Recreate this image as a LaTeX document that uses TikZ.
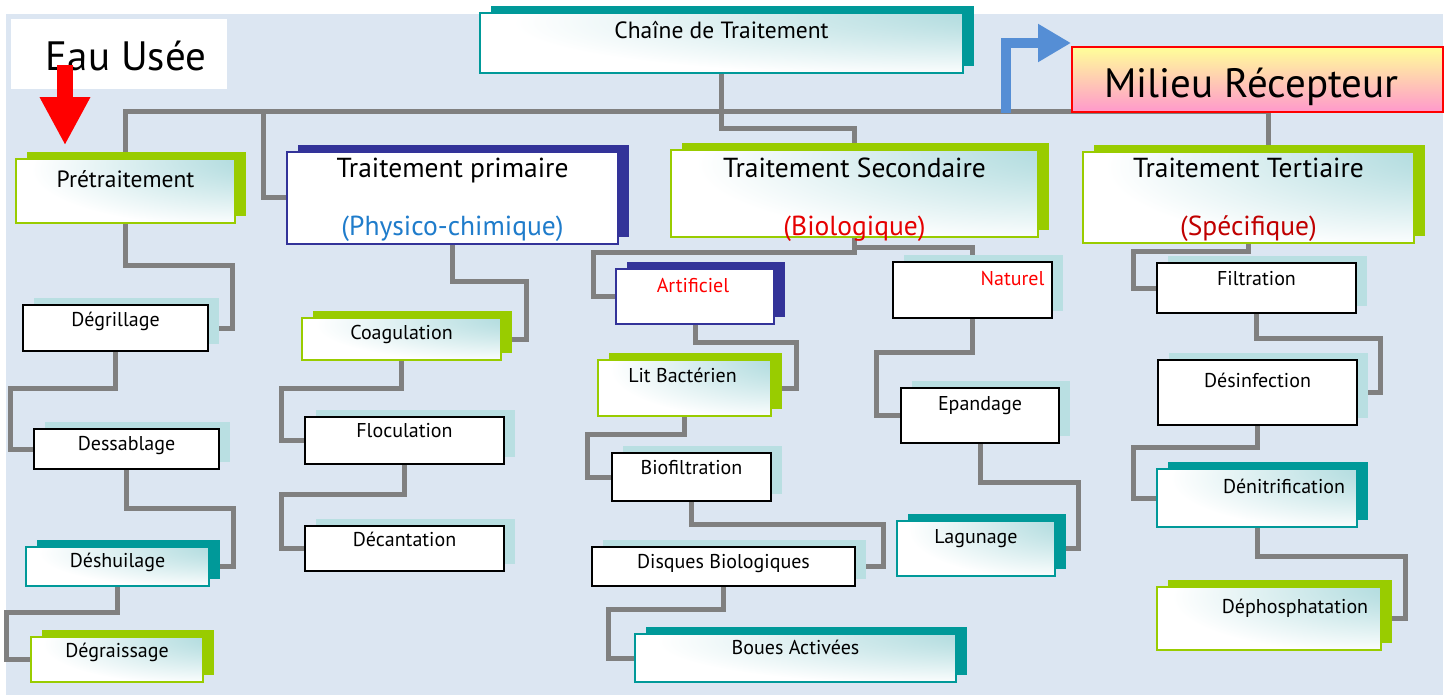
\documentclass[tikz,border=0pt]{standalone}
\usepackage{fontspec}
\setmainfont{PT Sans}
\usetikzlibrary{arrows.meta,shadows}

\definecolor{bggray}{HTML}{DCE6F2}
\definecolor{linkgray}{HTML}{808080}
\definecolor{boxgreen}{HTML}{99CC00}
\definecolor{boxteal}{HTML}{009999}
\definecolor{boxnavy}{HTML}{333399}
\definecolor{lightteal}{HTML}{B9DFE2}
\definecolor{gradteal}{HTML}{B2DCDF}
\definecolor{arrowblue}{HTML}{558ED5}
\definecolor{physblue}{HTML}{1F7CCB}
\definecolor{specred}{HTML}{C00000}
\definecolor{milyellow}{HTML}{FFFF99}
\definecolor{milpink}{HTML}{FF99CC}

\pgfdeclareradialshading{cornerteal}{\pgfpoint{40bp}{30bp}}{%
  color(0bp)=(gradteal); color(10bp)=(gradteal);
  color(44bp)=(white); color(100bp)=(white)}

\pgfdeclarelayer{back}
\pgfdeclarelayer{lines}
\pgfsetlayers{back,lines,main}

\tikzset{
  box/.style 2 args={inner sep=0pt, minimum width=#1, minimum height=#2},
  grad/.style={shading=cornerteal},
  greenbox/.style={draw=boxgreen, line width=1.5pt, grad,
    drop shadow={fill=boxgreen, opacity=1, shadow xshift=11pt, shadow yshift=7pt}},
  tealbox/.style={draw=boxteal, line width=1.5pt, grad,
    drop shadow={fill=boxteal, opacity=1, shadow xshift=11pt, shadow yshift=7pt}},
  navybox/.style={draw=boxnavy, line width=1.5pt, fill=white,
    drop shadow={fill=boxnavy, opacity=1, shadow xshift=11pt, shadow yshift=7pt}},
  blackbox/.style={draw=black, line width=1.6pt, fill=white,
    drop shadow={fill=lightteal, opacity=1, shadow xshift=11pt, shadow yshift=7pt}},
  txtsmall/.style={font=\fontsize{20}{22}\selectfont, inner sep=0pt},
  txtmid/.style={font=\fontsize{23.5}{26}\selectfont, inner sep=0pt},
  txtbig/.style={font=\fontsize{27.5}{30}\selectfont, inner sep=0pt},
  txthuge/.style={font=\fontsize{41}{44}\selectfont, inner sep=0pt},
  link/.style={draw=linkgray, line width=5pt},
  redarr/.style={draw=red, line width=16pt, -{Triangle[width=47pt,length=48pt]}},
  bluearr/.style={draw=arrowblue, line width=10pt, -{Triangle[width=36pt,length=33pt]}}
}

\begin{document}
\begin{tikzpicture}[x=1pt,y=-1pt]
\useasboundingbox (0,0) rectangle (1451,695);
\begin{pgfonlayer}{back}
\fill[white] (0,0) rectangle (1451,695);
\fill[bggray] (6,14) rectangle (1443,695);
\end{pgfonlayer}

% top row
\node[fill=white, box={216pt}{70pt}] (eau) at (119,54) {};
\node[txthuge, anchor=base] (eau-t) at ([xshift=7pt,yshift=-52pt]eau.north) {Eau Usée};
\node[tealbox, box={483pt}{60pt}] (chaine) at (721.5,43) {};
\node[txtmid, anchor=base] (chaine-t) at ([yshift=-26pt]chaine.north) {Chaîne de Traitement};
\node[draw=red, line width=2pt, top color=milyellow, bottom color=milpink, box={371pt}{65pt}] (milieu) at (1257.5,79.5) {};
\node[txthuge, anchor=base] (milieu-t) at ([xshift=-6pt,yshift=-52pt]milieu.north) {Milieu Récepteur};

% the four stages
\node[greenbox, box={219pt}{64pt}] (pre) at (125.5,191) {};
\node[txtmid, anchor=base] (pre-t) at ([yshift=-29pt]pre.north) {Prétraitement};
\node[navybox, box={331pt}{92pt}] (prim) at (452.5,198) {};
\node[txtbig, anchor=base] (prim-t) at ([yshift=-26pt]prim.north) {Traitement primaire};
\node[txtbig, anchor=base, text=physblue] (prim-t2) at ([yshift=-84pt]prim.north) {(Physico-chimique)};
\node[greenbox, box={367pt}{87pt}] (sec) at (854.5,193.5) {};
\node[txtbig, anchor=base] (sec-t) at ([yshift=-28pt]sec.north) {Traitement Secondaire};
\node[txtbig, anchor=base, text=red!90!black] (sec-t2) at ([yshift=-86pt]sec.north) {(Biologique)};
\node[greenbox, box={331pt}{91pt}] (ter) at (1248.5,197.5) {};
\node[txtbig, anchor=base] (ter-t) at ([yshift=-26pt]ter.north) {Traitement Tertiaire};
\node[txtbig, anchor=base, text=specred] (ter-t2) at ([yshift=-84pt]ter.north) {(Spécifique)};

% pretraitement
\node[blackbox, box={185pt}{46pt}] (degr) at (115.5,328) {};
\node[txtsmall, anchor=base] (degr-t) at ([yshift=-22pt]degr.north) {Dégrillage};
\node[blackbox, box={185pt}{40pt}] (dess) at (126.5,449) {};
\node[txtsmall, anchor=base] (dess-t) at ([yshift=-22pt]dess.north) {Dessablage};
\node[tealbox, box={183pt}{39pt}] (desh) at (117.5,566.5) {};
\node[txtsmall, anchor=base] (desh-t) at ([yshift=-21pt]desh.north) {Déshuilage};
\node[greenbox, box={172pt}{45pt}] (degra) at (117,659.5) {};
\node[txtsmall, anchor=base] (degra-t) at ([yshift=-21pt]degra.north) {Dégraissage};

% primaire
\node[greenbox, box={199pt}{42pt}] (coag) at (401.5,339) {};
\node[txtsmall, anchor=base] (coag-t) at ([yshift=-22pt]coag.north) {Coagulation};
\node[blackbox, box={199pt}{47pt}] (floc) at (404.5,440.5) {};
\node[txtsmall, anchor=base] (floc-t) at ([yshift=-21pt]floc.north) {Floculation};
\node[blackbox, box={199pt}{45pt}] (dec) at (404.5,548.5) {};
\node[txtsmall, anchor=base] (dec-t) at ([yshift=-21pt]dec.north) {Décantation};

% secondaire
\node[navybox, box={158pt}{55pt}] (art) at (695,296.5) {};
\node[txtsmall, anchor=base, text=red] (art-t) at ([xshift=-2pt,yshift=-24pt]art.north) {Artificiel};
\node[greenbox, box={173pt}{56pt}] (lit) at (684.5,388) {};
\node[txtsmall, anchor=base] (lit-t) at ([xshift=-2pt,yshift=-23pt]lit.north) {Lit Bactérien};
\node[blackbox, box={159pt}{48pt}] (bio) at (691.5,477) {};
\node[txtsmall, anchor=base] (bio-t) at ([yshift=-22pt]bio.north) {Biofiltration};
\node[blackbox, box={263pt}{39pt}] (disq) at (723.5,566.5) {};
\node[txtsmall, anchor=base] (disq-t) at ([yshift=-22pt]disq.north) {Disques Biologiques};
\node[tealbox, box={321pt}{48pt}] (boues) at (795.5,658) {};
\node[txtsmall, anchor=base] (boues-t) at ([yshift=-21pt]boues.north) {Boues Activées};
\node[blackbox, box={159pt}{56pt}] (nat) at (972.5,290) {};
\node[txtsmall, anchor=base, text=red] (nat-t) at ([xshift=40pt,yshift=-24pt]nat.north) {Naturel};
\node[blackbox, box={158pt}{55pt}] (epan) at (980,415.5) {};
\node[txtsmall, anchor=base] (epan-t) at ([yshift=-23pt]epan.north) {Epandage};
\node[tealbox, box={158pt}{55pt}] (lag) at (976,548.5) {};
\node[txtsmall, anchor=base] (lag-t) at ([yshift=-23pt]lag.north) {Lagunage};

% tertiaire
\node[blackbox, box={199pt}{50pt}] (filt) at (1256.5,288) {};
\node[txtsmall, anchor=base] (filt-t) at ([yshift=-23pt]filt.north) {Filtration};
\node[blackbox, box={199pt}{65pt}] (desinf) at (1257.5,392.5) {};
\node[txtsmall, anchor=base] (desinf-t) at ([yshift=-28pt]desinf.north) {Désinfection};
\node[tealbox, box={200pt}{58pt}] (denit) at (1257,498) {};
\node[txtsmall, anchor=base] (denit-t) at ([xshift=27pt,yshift=-25pt]denit.north) {Dénitrification};
\node[greenbox, box={224pt}{63pt}] (dephos) at (1269,618.5) {};
\node[txtsmall, anchor=base] (dephos-t) at ([xshift=26pt,yshift=-27pt]dephos.north) {Déphosphatation};

\begin{pgfonlayer}{lines}
\draw[link] (pre.north) -- ++(0,-47) -| ([xshift=20pt]ter.north);
\draw[link] (chaine.south) -- ++(0,55) -| (sec.north);
\draw[link] (prim.west) -- ++(-23,0) -- ++(0,-86);
\draw[link] (sec.south) -- ++(0,15) -| ([xshift=-22pt]art.west) -- (art.west);
\draw[link] (sec.south) -- ++(0,10) -| (nat.north);
\draw[link] (ter.south) -- ++(0,8) -| ([xshift=-23pt]filt.west) -- (filt.west);
\draw[link] (pre.south) -- ++(0,42) -| ([xshift=24pt]degr.east) -- (degr.east);
\draw[link] (degr.south) -- ++(0,37) -| ([xshift=-23pt]dess.west) -- (dess.west);
\draw[link] (dess.south) -- ++(0,39) -| ([xshift=24pt]desh.east) -- (desh.east);
\draw[link] (desh.south) -- ++(0,26) -| ([xshift=-24pt]degra.west) -- (degra.west);
\draw[link] (prim.south) -- ++(0,37) -| ([xshift=25pt]coag.east) -- (coag.east);
\draw[link] (coag.south) -- ++(0,28) -| ([xshift=-23pt]floc.west) -- (floc.west);
\draw[link] (floc.south) -- ++(0,30) -| ([xshift=-23pt]dec.west) -- (dec.west);
\draw[link] (art.south) -- ++(0,18) -| ([xshift=25pt]lit.east) -- (lit.east);
\draw[link] (lit.south) -- ++(0,18) -| ([xshift=-24pt]bio.west) -- (bio.west);
\draw[link] (bio.south) -- ++(0,23) -| ([xshift=28pt]disq.east) -- (disq.east);
\draw[link] (disq.south) -- ++(0,23) -| ([xshift=-26pt]boues.west) -- (boues.west);
\draw[link] (nat.south) -- ++(0,34) -| ([xshift=-24pt]epan.west) -- (epan.west);
\draw[link] (epan.south) -- ++(0,39) -| ([xshift=23pt]lag.east) -- (lag.east);
\draw[link] (filt.south) -- ++(0,25) -| ([xshift=23pt]desinf.east) -- (desinf.east);
\draw[link] (desinf.south) -- ++(0,22) -| ([xshift=-23pt]denit.west) -- (denit.west);
\draw[link] (denit.south) -- ++(0,29) -| ([xshift=24pt]dephos.east) -- (dephos.east);
\end{pgfonlayer}

% in and out
\draw[redarr] ([xshift=-54pt,yshift=-11pt]eau.center) -- ([xshift=-60.5pt,yshift=13pt]pre.north);
\draw[bluearr] ([xshift=-65pt]milieu.south west) |- ([yshift=3pt]milieu.north west);
\end{tikzpicture}
\end{document}
